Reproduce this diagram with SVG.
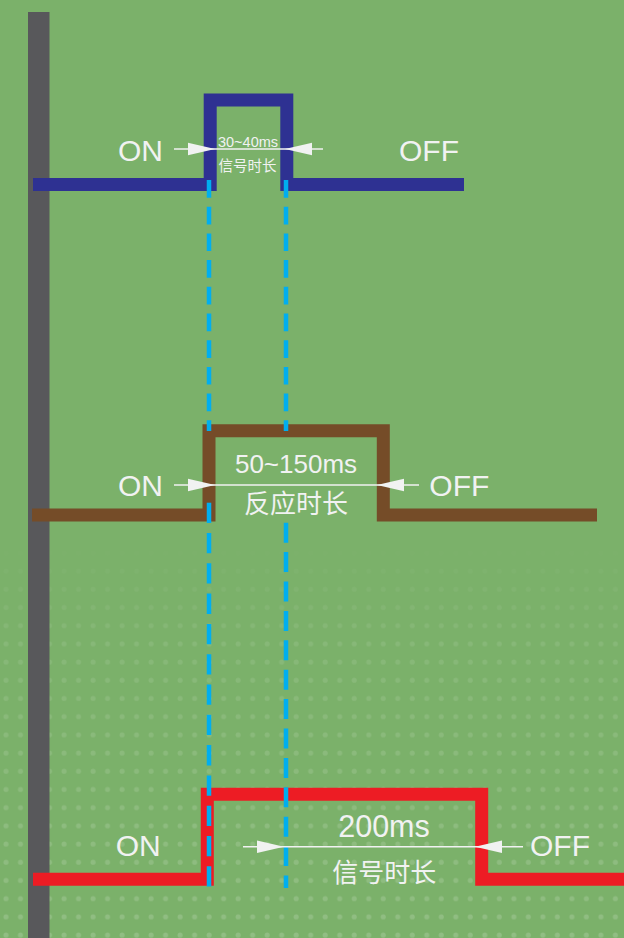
<svg xmlns="http://www.w3.org/2000/svg" width="624" height="938" viewBox="0 0 624 938">
<style>
.sig{fill:none;stroke-width:13;stroke-linejoin:miter;stroke-linecap:butt}
.dash{stroke:#00AEEF;stroke-width:4.5;fill:none}
.dim{stroke:#F1F2F2;stroke-width:1.5;fill:none}
.head{fill:#F1F2F2}
.lbl{font-family:"Liberation Sans",Arial,sans-serif;fill:#F1F2F2}
.cjk{font-family:"Liberation Sans","Noto Sans CJK SC",sans-serif;fill:#F1F2F2}
</style>
<defs>
<pattern id="dots" patternUnits="userSpaceOnUse" x="0" y="0" width="14.51" height="18.2">
<circle cx="6" cy="6.9" r="2.5" fill="#ffffff" fill-opacity="0.17"/>
</pattern>
<linearGradient id="fade" gradientUnits="userSpaceOnUse" x1="0" y1="540" x2="0" y2="938">
<stop offset="0" stop-color="#fff" stop-opacity="0"/>
<stop offset="0.25" stop-color="#fff" stop-opacity="0.55"/>
<stop offset="1" stop-color="#fff" stop-opacity="1"/>
</linearGradient>
<mask id="fadeMask" maskUnits="userSpaceOnUse" x="0" y="540" width="624" height="398">
<rect x="0" y="540" width="624" height="398" fill="url(#fade)"/>
</mask>
<polygon id="ah" points="0,0 -27,-6.3 -27,6.3"/>
</defs>
<rect x="0" y="0" width="624" height="938" fill="#7BB16A"/>
<rect x="0" y="540" width="624" height="398" fill="url(#dots)" mask="url(#fadeMask)"/>
<g id="axis"><rect x="28" y="12" width="21.5" height="926" fill="#58585B"/></g>
<g id="signal-blue"><path class="sig" stroke="#2E3192" d="M33,184.5 H210.2 V100 H286.8 V184.5 H464"/></g>
<g id="signal-brown"><path class="sig" stroke="#754C28" d="M32,515 H209 V430.7 H383.3 V515 H597"/></g>
<g id="signal-red"><path class="sig" stroke="#ED1C24" d="M33,879.3 H207.3 V794.3 H481.7 V879.3 H624"/></g>
<g id="connectors">
<line class="dash" x1="209" y1="180" x2="209" y2="431" stroke-dasharray="17.7 9"/>
<line class="dash" x1="286" y1="180" x2="286" y2="431" stroke-dasharray="17.7 9"/>
<line class="dash" x1="209" y1="502.7" x2="209" y2="888" stroke-dasharray="20.3 10"/>
<line class="dash" x1="286" y1="522.7" x2="286" y2="888" stroke-dasharray="20 9.4"/>
<line class="dim" x1="174" y1="149" x2="323" y2="149"/>
<use href="#ah" class="head" transform="translate(215,149)"/>
<use href="#ah" class="head" transform="translate(285,149) rotate(180)"/>
<line class="dim" x1="174" y1="485" x2="419" y2="485"/>
<use href="#ah" class="head" transform="translate(215,485)"/>
<use href="#ah" class="head" transform="translate(377,485) rotate(180)"/>
<line class="dim" x1="243" y1="846.7" x2="523" y2="846.7"/>
<use href="#ah" class="head" transform="translate(284,846.7)"/>
<use href="#ah" class="head" transform="translate(475,846.7) rotate(180)"/>
</g>
<g id="labels-blue">
<text class="lbl" x="118" y="160.5" font-size="30">ON</text>
<text class="lbl" x="399" y="160.5" font-size="30">OFF</text>
<text class="lbl" x="248" y="146.5" font-size="14.5" text-anchor="middle">30~40ms</text>
<text class="cjk" x="247.5" y="171" font-size="14.5" text-anchor="middle">信号时长</text>
</g>
<g id="labels-brown">
<text class="lbl" x="118" y="496" font-size="30">ON</text>
<text class="lbl" x="429.3" y="496" font-size="30">OFF</text>
<text class="lbl" x="296" y="473.3" font-size="26" text-anchor="middle">50~150ms</text>
<text class="cjk" x="296" y="513" font-size="26" text-anchor="middle">反应时长</text>
</g>
<g id="labels-red">
<text class="lbl" x="115.7" y="855.7" font-size="30">ON</text>
<text class="lbl" x="530" y="855.5" font-size="30">OFF</text>
<text class="lbl" x="384" y="836.7" font-size="30.5" text-anchor="middle">200ms</text>
<text class="cjk" x="384.2" y="882" font-size="26" text-anchor="middle">信号时长</text>
</g>
</svg>
